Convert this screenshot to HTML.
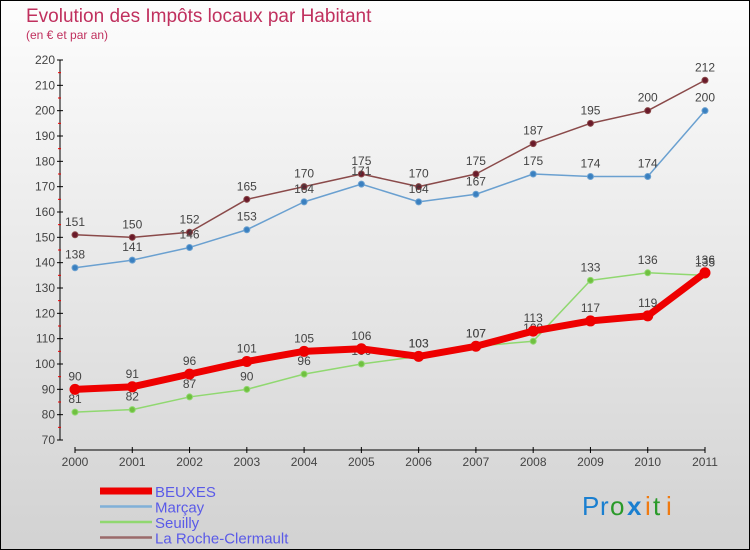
<!DOCTYPE html>
<html><head><meta charset="utf-8"><style>
body{margin:0}
#c{width:750px;height:550px;position:relative;box-sizing:border-box;border:1px solid #000;background:linear-gradient(#fdfdfd,#d2d2d2);font-family:"Liberation Sans",sans-serif;overflow:hidden}
</style></head><body>
<div id="c">
<svg id="s" width="750" height="550" style="position:absolute;left:-1px;top:-1px">
<text x="26" y="22" font-size="19" fill="#c0305e">Evolution des Impôts locaux par Habitant</text>
<text x="26" y="39" font-size="12" fill="#c0305e">(en € et par an)</text>
<g id="g"></g>
<g font-size="26" font-family="Liberation Sans,sans-serif">
<text x="582" y="515" fill="#1a7fd0">P</text><text x="600" y="515" fill="#1a7fd0">r</text><text x="610" y="515" fill="#2a9a2a">o</text><text x="627" y="515" fill="#1a7fd0" font-weight="bold">x</text><text x="645" y="515" fill="#f07a10">i</text><text x="653" y="515" fill="#2a9a2a">t</text><text x="666" y="515" fill="#f07a10">i</text>
</g>
</svg>
</div>
<script>
const years=["2000","2001","2002","2003","2004","2005","2006","2007","2008","2009","2010","2011"];
const yTicks=[70,80,90,100,110,120,130,140,150,160,170,180,190,200,210,220];
const beuxes=[90,91,96,101,105,106,103,107,113,117,119,136];
const marcay=[138,141,146,153,164,171,164,167,175,174,174,200];
const seuilly=[81,82,87,90,96,100,103,107,109,133,136,135];
const roche=[151,150,152,165,170,175,170,175,187,195,200,212];
const seriesNames=["BEUXES","Marçay","Seuilly","La Roche-Clermault"];
const NS="http://www.w3.org/2000/svg";
const g=document.getElementById('g');
const X=i=>75+i*(630/11);
const Y=v=>440-(v-70)*(380/150);
function el(t,a,p){const e=document.createElementNS(NS,t);for(const k in a)e.setAttribute(k,a[k]);(p||g).appendChild(e);return e;}
// axes
let ya=el('line',{x1:60,y1:Y(220),x2:60,y2:Y(70),stroke:'#000','stroke-width':1});

yTicks.forEach(v=>{el('line',{x1:57,x2:63,y1:Y(v),y2:Y(v),stroke:'#000'});
 if(v<220)el('line',{x1:58,x2:61,y1:Y(v+5),y2:Y(v+5),stroke:'#e00'});
 const t=el('text',{x:55,y:Y(v)+4,'font-size':12,fill:'#444','text-anchor':'end'});t.textContent=v;
 });
let xa=el('line',{x1:75,y1:450,x2:705,y2:450,stroke:'#000'});

years.forEach((y,i)=>{el('line',{x1:X(i),x2:X(i),y1:447,y2:453,stroke:'#000'});
 const t=el('text',{x:X(i),y:466,'font-size':12,fill:'#444','text-anchor':'middle'});t.textContent=y;
 });
function series(d,col,w,r,dot,name,lbl){
 const p=el('polyline',{points:d.map((v,i)=>X(i)+','+Y(v)).join(' '),fill:'none',stroke:col,'stroke-width':w,'stroke-linejoin':'round'});
 
 d.forEach((v,i)=>{const c=el('circle',{cx:X(i),cy:Y(v),r:r,fill:dot,stroke:col,'stroke-width':1});
  
  const t=el('text',{x:X(i),y:Y(v)-9,'font-size':12,fill:'#444','text-anchor':'middle'});t.textContent=v;
  });
}
series(roche,'#8a4a4a',1.5,3,'#6a1a2a','roche');
series(marcay,'#6aa0d0',1.5,3,'#3a80c0','marcay');
series(seuilly,'#90d870',1.5,3,'#70c040','seuilly');
series(beuxes,'#ee0000',7,5,'#ee0000','beuxes');
const lc=['#ee0000','#80b0d8','#90d870','#9a6a6a'],lw=[7,2.5,2.5,2.5];
seriesNames.forEach((n,i)=>{const y=491+i*15.5;
 const l=el('line',{x1:100,x2:152,y1:y,y2:y,stroke:lc[i],'stroke-width':lw[i]});
 
 const t=el('text',{x:155,y:y+6,'font-size':15,fill:'#5a5ae8'});t.textContent=n;
 });
</script>
</body></html>
